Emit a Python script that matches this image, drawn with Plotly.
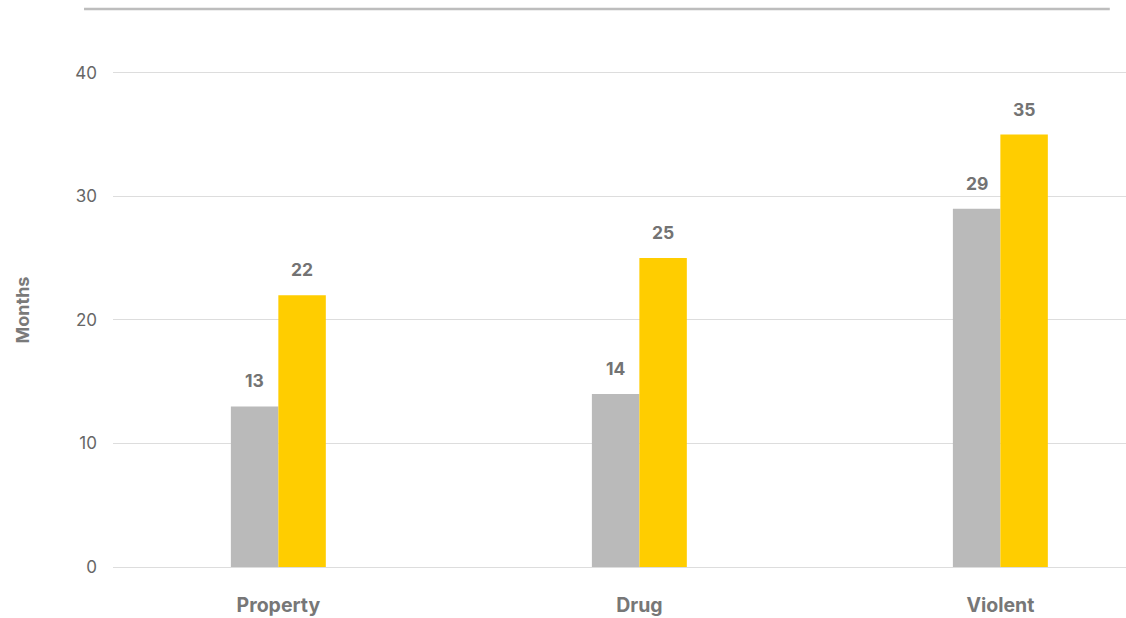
import plotly.graph_objects as go

categories = ["Property", "Drug", "Violent"]
series_a = [13, 14, 29]   # gray
series_b = [22, 25, 35]   # yellow
y_ticks = [0, 10, 20, 30, 40]

GRAY = "#bababa"
YELLOW = "#ffcd00"
FONT = "Inter, Open Sans, sans-serif"

fig = go.Figure()
fig.add_trace(go.Bar(x=categories, y=series_a, marker_color=GRAY, marker_line_width=0, name="A"))
fig.add_trace(go.Bar(x=categories, y=series_b, marker_color=YELLOW, marker_line_width=0, name="B"))

annotations = []
for cat, a, b in zip(categories, series_a, series_b):
    for val, shift in ((a, -23.5), (b, 23.5)):
        annotations.append(dict(x=cat, y=val, xref="x", yref="y", text=str(val),
                                showarrow=False, xshift=shift, yshift=13, yanchor="bottom",
                                font=dict(family=FONT, size=17.5, color="#737373", weight="bold")))
annotations.append(dict(x=-0.0898, y=(567 - 310) / 557, xref="paper", yref="paper", text="Months",
                        textangle=-90, showarrow=False, xanchor="center", yanchor="middle",
                        font=dict(family=FONT, size=18, color="#7a7a7a", weight="bold")))

fig.update_layout(
    width=1126, height=618,
    margin=dict(l=113, r=0, t=11, b=51, autoexpand=False),
    paper_bgcolor="white", plot_bgcolor="white",
    barmode="group", bargap=0.737, bargroupgap=0,
    showlegend=False,
    annotations=annotations,
    shapes=[dict(type="line", xref="paper", yref="paper", x0=-0.0286, x1=0.984,
                 y0=1 + 2 / 556, y1=1 + 2 / 556,
                 line=dict(color="#bdbdbd", width=2.5))],
    xaxis=dict(range=[-0.458, 2.348], showgrid=False, zeroline=False, showline=False,
               ticks="", ticklabelstandoff=24, automargin=False,
               tickfont=dict(family=FONT, size=19.5, color="#777777", weight="bold")),
    yaxis=dict(range=[0, 45.0], tickvals=y_ticks, showgrid=True, gridcolor="#dddddd", gridwidth=1,
               zeroline=True, zerolinecolor="#dddddd", zerolinewidth=1, showline=False,
               ticks="", ticklabelstandoff=15, automargin=False,
               tickfont=dict(family=FONT, size=17, color="#666666")),
)

fig.write_html("out.html")
